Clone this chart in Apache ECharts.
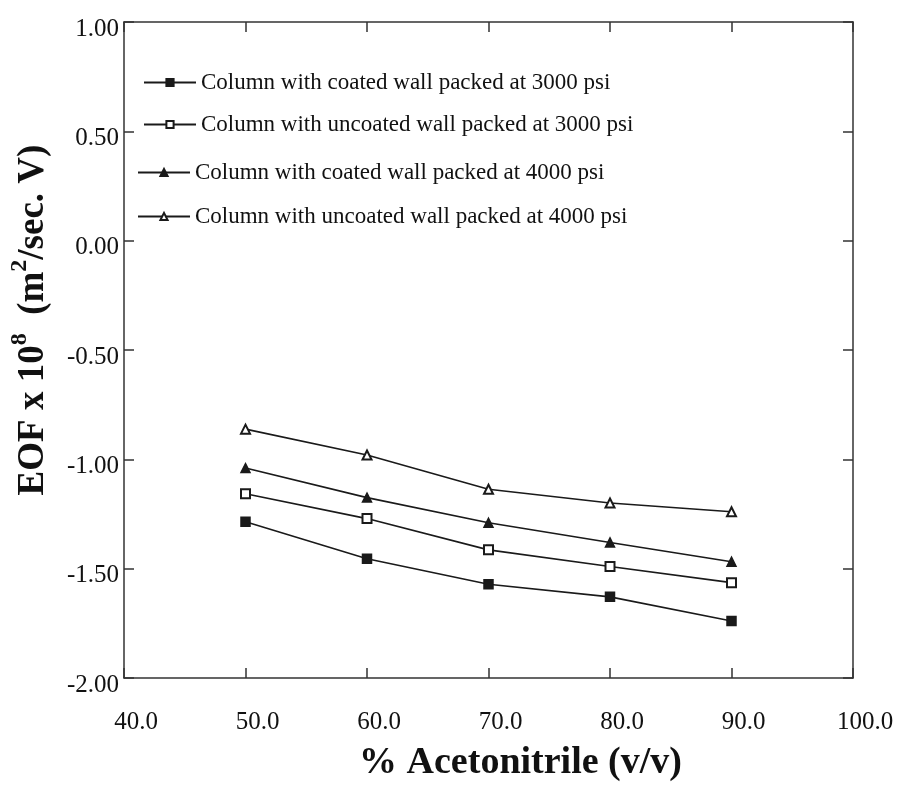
<!DOCTYPE html>
<html>
<head>
<meta charset="utf-8">
<script src="https://cdn.jsdelivr.net/npm/echarts@6/dist/echarts.min.js"></script>
<style>html,body{margin:0;padding:0;background:#fff}#c{width:901px;height:788px}</style>
</head>
<body>
<div id="c"></div>
<script>
const acetonitrile = [50, 60, 70, 80, 90];
const coated3000 = [-1.285, -1.455, -1.571, -1.629, -1.739];
const uncoated3000 = [-1.157, -1.271, -1.414, -1.490, -1.564];
const coated4000 = [-1.040, -1.175, -1.290, -1.380, -1.468];
const uncoated4000 = [-0.862, -0.980, -1.137, -1.200, -1.240];
const seriesNames = [
  'Column with coated wall packed at 3000 psi',
  'Column with uncoated wall packed at 3000 psi',
  'Column with coated wall packed at 4000 psi',
  'Column with uncoated wall packed at 4000 psi'
];
const seriesValues = [coated3000, uncoated3000, coated4000, uncoated4000];
const seriesSymbols = ['rect', 'emptyRect', 'triangle', 'emptyTriangle'];
const symbolSizes = [9, 9, 9, 9];

const FONT = '"Liberation Serif", "Times New Roman", serif';
const INK = '#1a1a1a';

const legendPos = [
  {left: 143, top: 71},
  {left: 143, top: 113},
  {left: 137, top: 161},
  {left: 137, top: 205}
];

const chart = echarts.init(document.getElementById('c'), null, {renderer: 'canvas'});

const axisLineStyle = {show: true, onZero: false, lineStyle: {color: '#333', width: 1.5}};
const tickStyle = {show: true, inside: true, length: 10, lineStyle: {color: '#333', width: 1.5}};

chart.setOption({
  animation: false,
  backgroundColor: '#fff',
  grid: {left: 123, right: 48, top: 22, bottom: 110, containLabel: false},
  legend: seriesNames.map((n, i) => ({
    data: [n],
    left: legendPos[i].left,
    top: legendPos[i].top,
    padding: 0,
    itemWidth: 52,
    itemHeight: 9,
    selectedMode: false,
    textStyle: {fontFamily: FONT, fontSize: 23, color: '#111'}
  })),
  xAxis: [
    {
      type: 'value', position: 'bottom', min: 40, max: 100, interval: 10,
      axisLine: axisLineStyle, axisTick: tickStyle, splitLine: {show: false},
      axisLabel: {
        fontFamily: FONT, fontSize: 25, color: '#111', margin: 32,
        padding: [0, 0, 0, 24],
        formatter: v => v.toFixed(1)
      },
      name: '% Acetonitrile (v/v)', nameLocation: 'middle', nameGap: 66,
      nameTextStyle: {fontFamily: FONT, fontSize: 38, fontWeight: 'bold', color: '#111', padding: [0, 0, 0, 64]}
    },
    {
      type: 'value', position: 'top', min: 40, max: 100, interval: 10,
      axisLine: axisLineStyle, axisTick: tickStyle, splitLine: {show: false},
      axisLabel: {show: false}
    }
  ],
  yAxis: [
    {
      type: 'value', position: 'left', min: -2, max: 1, interval: 0.5,
      axisLine: axisLineStyle, axisTick: tickStyle, splitLine: {show: false},
      axisLabel: {
        fontFamily: FONT, fontSize: 25, color: '#111', margin: 5,
        verticalAlign: 'top', lineHeight: 14,
        formatter: v => v.toFixed(2)
      },
      name: '{b|EOF x 10}{s|8}{b|  (m}{s|2}{b|/sec. V)}',
      nameLocation: 'middle', nameRotate: 90, nameGap: 72,
      nameTextStyle: {
        padding: [0, 0, 0, 60],
        rich: {
          b: {fontFamily: FONT, fontSize: 37, fontWeight: 'bold', color: '#111', lineHeight: 44, verticalAlign: 'bottom'},
          s: {fontFamily: FONT, fontSize: 24, fontWeight: 'bold', color: '#111', lineHeight: 44, verticalAlign: 'top'}
        }
      }
    },
    {
      type: 'value', position: 'right', min: -2, max: 1, interval: 0.5,
      axisLine: axisLineStyle, axisTick: tickStyle, splitLine: {show: false},
      axisLabel: {show: false}
    }
  ],
  series: seriesNames.map((n, i) => ({
    name: n,
    type: 'line',
    xAxisIndex: 0, yAxisIndex: 0,
    data: acetonitrile.map((x, j) => [x, seriesValues[i][j]]),
    symbol: seriesSymbols[i],
    symbolSize: symbolSizes[i],
    showAllSymbol: true,
    color: INK,
    lineStyle: {color: INK, width: 1.6},
    itemStyle: {color: INK, borderColor: INK, borderWidth: 1.5},
    emphasis: {disabled: true}
  }))
});
</script>
</body>
</html>
